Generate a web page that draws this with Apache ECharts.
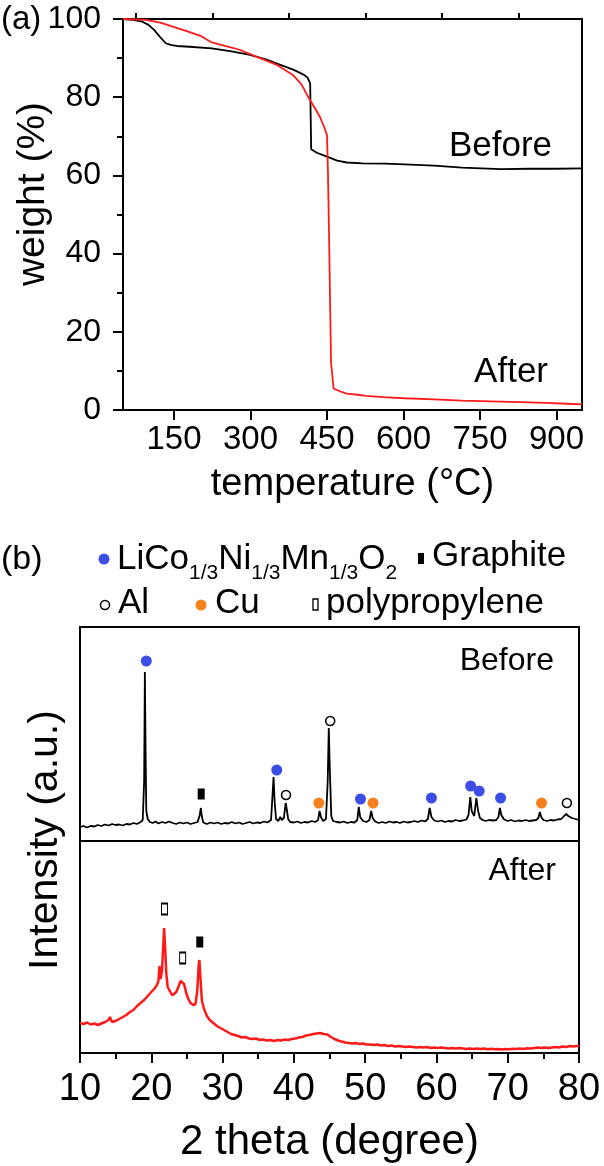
<!DOCTYPE html>
<html><head><meta charset="utf-8">
<script src="https://cdn.jsdelivr.net/npm/echarts@6/dist/echarts.min.js"></script>
<style>html,body{margin:0;padding:0;background:#fff}#c{width:604px;height:1166px}</style>
</head><body><div id="c"></div>
<script>
// ---- (a) TGA data ----
const tgaBeforeT = [50, 70, 88, 100, 111, 122, 134, 145, 156, 180, 224, 260, 299, 330, 360, 385, 405, 412, 417, 418, 419, 430, 450, 470, 489, 520, 564, 602, 660, 715, 791, 850, 900, 950];
const tgaBeforeW = [100, 99.8, 99.3, 98.5, 97.2, 95.5, 93.8, 93.3, 93.1, 92.9, 92.5, 91.8, 90.8, 89.7, 88.2, 87.0, 85.7, 85.0, 83.5, 75, 66.7, 65.8, 64.8, 63.8, 63.3, 63.1, 63.0, 62.8, 62.5, 62.0, 61.6, 61.7, 61.7, 61.8];
const tgaAfterT = [50, 96, 125, 149, 175, 202, 224, 250, 277, 315, 353, 383, 400, 413, 425, 436, 444, 450, 452, 454, 456, 458, 463, 475, 489, 510, 526, 560, 602, 660, 715, 770, 829, 880, 920, 950];
const tgaAfterW = [100, 99.8, 99.0, 98.0, 96.9, 95.7, 94.0, 93.1, 92.2, 90.2, 88.2, 85.7, 83.3, 80.1, 77.5, 75.0, 72.5, 70.3, 60, 45, 28, 12, 5.5, 4.8, 4.2, 3.9, 3.6, 3.3, 3.0, 2.7, 2.4, 2.2, 2.0, 1.8, 1.6, 1.45];
const tgaXLabels = [150, 300, 450, 600, 750, 900];
const tgaXMinorTicks = [75, 225, 375, 525, 675, 825];

// ---- (b) XRD data (a.u.) ----
const xrdBeforeTheta = [10.0,10.5,11.0,11.5,12.0,12.5,13.0,13.5,14.0,14.5,15.0,15.5,16.0,16.5,17.0,17.5,18.0,18.5,18.8,19.0,19.1,19.2,19.3,19.5,19.8,20.2,20.6,21.0,21.5,22.0,22.5,23.0,23.5,24.0,24.5,25.0,25.5,26.0,26.5,26.8,26.95,27.1,27.3,27.8,28.3,28.8,29.3,29.8,30.3,30.8,31.3,31.8,32.3,32.8,33.3,33.8,34.3,34.8,35.3,35.8,36.3,36.8,37.0,37.15,37.3,37.5,37.8,38.1,38.3,38.6,38.85,39.0,39.2,39.5,40.0,40.5,41.0,41.5,42.0,42.5,43.0,43.4,43.6,43.8,44.1,44.5,44.75,44.9,45.05,45.25,45.5,46.0,46.5,47.0,47.5,48.0,48.5,48.9,49.1,49.3,49.7,50.2,50.6,50.85,51.05,51.4,51.9,52.4,52.9,53.4,53.9,54.4,54.9,55.4,55.9,56.4,56.9,57.4,57.9,58.4,58.8,59.05,59.3,59.7,60.2,60.7,61.2,61.7,62.2,62.7,63.2,63.7,64.2,64.5,64.75,64.95,65.3,65.6,65.85,66.1,66.5,66.9,67.4,67.9,68.4,68.7,68.9,69.1,69.5,70.0,70.5,71.0,71.5,72.0,72.5,73.0,73.5,74.0,74.3,74.5,74.7,75.0,75.5,76.0,76.5,77.0,77.5,77.9,78.2,78.5,78.7,79.0,79.5,80.0];
const xrdBeforeI = [14,15,13.5,15,14.5,16,15,16.5,15.5,17,16,16.5,15.5,17,16.5,18,17,19,21,60,169,90,30,22,19,18,19.5,17.5,19,18,19.5,18,17,18.5,17.5,18.5,17,18,19,26,33,24,18.5,17,18.5,17.5,18.5,17,18,17.5,19,17.5,18.5,17,18,19,17.5,18.5,18,19.5,18.5,21,45,64,40,22,20,24,21,23,38,32,22,19,18.5,19.5,18,19,18.5,20,19,21,30,24,20,22,60,113,70,25,20,19,18.5,19.5,18,19,18.5,21,34,24,20,19,21,30,23,19.5,18,19,18,19.5,18.5,19,18,19.5,18.5,19,20,19,20.5,19.5,22,33,24,20.5,19.5,20.5,19,20,19.5,21,20,20.5,21.5,26,44,30,25,43,30,23,21,20,21,20.5,21,24,33,26,21.5,20,21,19.5,20.5,20,21,20,20.5,21,23,29,24,21,20,21,20.5,21.5,22,25,27,25,27,23,22,21];
const xrdAfterTheta = [10.0,10.5,11.0,11.5,12.0,12.5,13.0,13.5,14.0,14.2,14.5,15.0,15.5,16.0,16.5,17.0,17.5,18.0,18.5,19.0,19.5,20.0,20.4,20.8,21.0,21.15,21.3,21.5,21.7,21.8,21.95,22.1,22.3,22.6,22.9,23.2,23.5,23.8,24.1,24.3,24.6,24.9,25.2,25.5,25.9,26.2,26.45,26.65,26.75,26.9,27.1,27.4,27.8,28.2,28.7,29.2,29.7,30.2,30.7,31.2,31.7,32.2,32.7,33.2,33.7,34.2,34.7,35.2,35.7,36.2,36.7,37.2,37.7,38.2,38.7,39.2,39.7,40.2,40.7,41.2,41.7,42.2,42.7,43.2,43.7,44.2,44.7,45.2,45.7,46.2,46.7,47.2,47.7,48.2,48.7,49.2,49.7,50.2,50.7,51.2,51.7,52.2,52.7,53.2,53.7,54.2,54.7,55.2,55.7,56.2,56.7,57.2,57.7,58.2,58.7,59.2,59.7,60.2,60.7,61.2,61.7,62.2,62.7,63.2,63.7,64.2,64.7,65.2,65.7,66.2,66.7,67.2,67.7,68.2,68.7,69.2,69.7,70.2,70.7,71.2,71.7,72.2,72.7,73.2,73.7,74.2,74.7,75.2,75.7,76.2,76.7,77.2,77.7,78.2,78.7,79.2,79.7,80.0];
const xrdAfterI = [30,29,30.5,28.5,29.5,28,29.5,31,33,36,31,32,34,36,38,41,43,47,50,53,57,61,64,68,72,87,74,82,110,125,105,80,66,62,58,59,61,66,72,74,69,60,54,50,48,49,62,88,93,75,52,44,37,33,30,27,25,23,21,19,18,17,15.5,16,14.5,14,14.5,13,13.5,12.5,13,12,13,12.5,13.5,13,14,14.5,15.5,16,17.5,18,19,19.5,20,19,18.5,16,14,12.5,11.5,10.5,10,9.5,10,9,9.5,8.5,8.5,8,8.5,7.5,8,7,7.5,6.5,7,6.5,6,6.5,6,5.5,6,5.5,6,5,5.5,5,5.5,5,4.5,5,4.5,5,4.5,4,4.5,4,4.5,4,4.5,3.8,4.2,3.8,4,3.5,4,3.8,4.2,4,4.5,4,4.8,4.5,5,5.5,5,5.5,5,5.5,6,5.5,6.5,6,7,6.5,7,7];

// ---- peak markers [2theta, a.u.] ----
const mkNMC = [[19.3,180],[37.6,71],[49.35,42],[59.3,43],[64.8,55],[66.0,50],[69.0,43]];
const mkAl = [[38.9,46],[45.1,120],[78.3,38]];
const mkCu = [[43.5,38],[51.1,38],[74.75,38]];
const mkGraphiteBefore = [[27.0,47]];
const mkGraphiteAfter = [[26.8,111]];
const mkPP = [[21.85,144],[24.4,95]];

const FF = '"Liberation Sans", Arial, sans-serif';
const BLUE = '#3d4ee6', ORANGE = '#f5801e', RED = '#ff1a1a';
const zip = (a, b) => a.map((v, i) => [v, b[i]]);

const chart = echarts.init(document.getElementById('c'));
const axisLineStyle = {color: '#000', width: 2};
chart.setOption({
  animation: false,
  backgroundColor: '#fff',
  grid: [
    {left: 123, top: 19, right: 22, height: 391, show: true, borderColor: '#000', borderWidth: 2, outerBoundsMode: 'none'},
    {left: 80, top: 627, right: 25, height: 214, show: true, borderColor: '#000', borderWidth: 2, outerBoundsMode: 'none'},
    {left: 80, top: 841, right: 25, height: 212, show: true, borderColor: '#000', borderWidth: 2, outerBoundsMode: 'none'}
  ],
  xAxis: [
    {gridIndex: 0, type: 'value', min: 50, max: 950,
      axisLine: {lineStyle: axisLineStyle},
      axisTick: {length: 10, lineStyle: axisLineStyle, customValues: tgaXLabels},
      axisLabel: {customValues: tgaXLabels, fontSize: 33, color: '#000', fontFamily: FF, margin: 13},
      splitLine: {show: false},
      name: 'temperature (°C)', nameLocation: 'middle', nameGap: 56, nameMoveOverlap: false,
      nameTextStyle: {fontSize: 38, color: '#000', fontFamily: FF}},
    {gridIndex: 1, type: 'value', min: 10, max: 80, show: false},
    {gridIndex: 2, type: 'value', min: 10, max: 80, interval: 10,
      axisLine: {lineStyle: axisLineStyle},
      axisTick: {length: 10, lineStyle: axisLineStyle},
      minorTick: {show: true, splitNumber: 2, length: 6, lineStyle: axisLineStyle},
      axisLabel: {fontSize: 38, color: '#000', fontFamily: FF, margin: 18},
      splitLine: {show: false},
      name: '2 theta (degree)', nameLocation: 'middle', nameGap: 68, nameMoveOverlap: false,
      nameTextStyle: {fontSize: 42, color: '#000', fontFamily: FF}},
    {gridIndex: 0, type: 'value', min: 50, max: 950,
      axisLine: {show: false},
      axisTick: {length: 6, lineStyle: axisLineStyle, customValues: tgaXMinorTicks},
      axisLabel: {show: false}, splitLine: {show: false}}
  ],
  yAxis: [
    {gridIndex: 0, type: 'value', min: 0, max: 100, interval: 20,
      axisLine: {show: true, lineStyle: axisLineStyle},
      axisTick: {show: true, length: 10, lineStyle: axisLineStyle},
      minorTick: {show: true, splitNumber: 2, length: 6, lineStyle: axisLineStyle},
      axisLabel: {fontSize: 32, color: '#000', fontFamily: FF, margin: 22},
      splitLine: {show: false}},
    {gridIndex: 1, type: 'value', min: 0, max: 214, show: false},
    {gridIndex: 2, type: 'value', min: 0, max: 212, show: false}
  ],
  series: [
    {name: 'Before TGA', type: 'line', xAxisIndex: 0, yAxisIndex: 0, data: zip(tgaBeforeT, tgaBeforeW),
      showSymbol: false, lineStyle: {color: '#000', width: 1.8}},
    {name: 'After TGA', type: 'line', xAxisIndex: 0, yAxisIndex: 0, data: zip(tgaAfterT, tgaAfterW),
      showSymbol: false, lineStyle: {color: RED, width: 1.8}},
    {name: 'Before XRD', type: 'line', xAxisIndex: 1, yAxisIndex: 1, data: zip(xrdBeforeTheta, xrdBeforeI),
      showSymbol: false, lineStyle: {color: '#000', width: 1.8}},
    {name: 'After XRD', type: 'line', xAxisIndex: 2, yAxisIndex: 2, data: zip(xrdAfterTheta, xrdAfterI),
      showSymbol: false, lineStyle: {color: RED, width: 2.5}},
    {name: 'LiCo1/3Ni1/3Mn1/3O2', type: 'scatter', xAxisIndex: 1, yAxisIndex: 1, data: mkNMC,
      symbol: 'circle', symbolSize: 11, itemStyle: {color: BLUE, opacity: 1}, z: 5},
    {name: 'Al', type: 'scatter', xAxisIndex: 1, yAxisIndex: 1, data: mkAl,
      symbol: 'circle', symbolSize: 9, itemStyle: {color: '#fff', borderColor: '#000', borderWidth: 1.5, opacity: 1}, z: 5},
    {name: 'Cu', type: 'scatter', xAxisIndex: 1, yAxisIndex: 1, data: mkCu,
      symbol: 'circle', symbolSize: 11, itemStyle: {color: ORANGE, opacity: 1}, z: 5},
    {name: 'Graphite', type: 'scatter', xAxisIndex: 1, yAxisIndex: 1, data: mkGraphiteBefore,
      symbol: 'rect', symbolSize: [7, 11], itemStyle: {color: '#000', opacity: 1}, z: 5},
    {name: 'Graphite', type: 'scatter', xAxisIndex: 2, yAxisIndex: 2, data: mkGraphiteAfter,
      symbol: 'rect', symbolSize: [7, 11], itemStyle: {color: '#000', opacity: 1}, z: 5},
    {name: 'polypropylene', type: 'scatter', xAxisIndex: 2, yAxisIndex: 2, data: mkPP,
      symbol: 'rect', symbolSize: [6, 11], itemStyle: {color: '#fff', borderColor: '#000', borderWidth: 1.3, opacity: 1}, z: 5}
  ],
  graphic: [
    {type: 'text', x: 1, y: 20, style: {text: '(a)', fontSize: 33, fontFamily: FF, fill: '#000', align: 'left', verticalAlign: 'middle'}},
    {type: 'text', x: 33, y: 194, rotation: Math.PI / 2, style: {text: 'weight (%)', fontSize: 39, fontFamily: FF, fill: '#000', align: 'center', verticalAlign: 'middle'}},
    {type: 'text', x: 552, y: 146, style: {text: 'Before', fontSize: 35, fontFamily: FF, fill: '#000', align: 'right', verticalAlign: 'middle'}},
    {type: 'text', x: 548, y: 372, style: {text: 'After', fontSize: 35, fontFamily: FF, fill: '#000', align: 'right', verticalAlign: 'middle'}},
    {type: 'text', x: 1, y: 560, style: {text: '(b)', fontSize: 34, fontFamily: FF, fill: '#000', align: 'left', verticalAlign: 'middle'}},
    {type: 'text', x: 554, y: 661, style: {text: 'Before', fontSize: 32, fontFamily: FF, fill: '#000', align: 'right', verticalAlign: 'middle'}},
    {type: 'text', x: 556, y: 871, style: {text: 'After', fontSize: 32, fontFamily: FF, fill: '#000', align: 'right', verticalAlign: 'middle'}},
    {type: 'text', x: 46, y: 840, rotation: Math.PI / 2, style: {text: 'Intensity (a.u.)', fontSize: 41, fontFamily: FF, fill: '#000', align: 'center', verticalAlign: 'middle'}},
    // legend row 1
    {type: 'circle', shape: {cx: 104, cy: 559, r: 5.5}, style: {fill: BLUE}},
    {type: 'text', x: 117, y: 542, style: {
      text: '{m|LiCo}{s|1/3}{m|Ni}{s|1/3}{m|Mn}{s|1/3}{m|O}{s|2}', align: 'left', verticalAlign: 'top', fill: '#000',
      rich: {m: {fontSize: 35, fontFamily: FF, lineHeight: 35, verticalAlign: 'top', fill: '#000'},
             s: {fontSize: 21, fontFamily: FF, lineHeight: 42, verticalAlign: 'bottom', fill: '#000'}}}},
    {type: 'rect', shape: {x: 418, y: 553, width: 6, height: 11}, style: {fill: '#000'}},
    {type: 'text', x: 432, y: 556, style: {text: 'Graphite', fontSize: 35, fontFamily: FF, fill: '#000', align: 'left', verticalAlign: 'middle'}},
    // legend row 2
    {type: 'circle', shape: {cx: 105, cy: 605, r: 4.5}, style: {fill: '#fff', stroke: '#000', lineWidth: 1.5}},
    {type: 'text', x: 118, y: 603, style: {text: 'Al', fontSize: 35, fontFamily: FF, fill: '#000', align: 'left', verticalAlign: 'middle'}},
    {type: 'circle', shape: {cx: 201, cy: 605, r: 5.5}, style: {fill: ORANGE}},
    {type: 'text', x: 215, y: 603, style: {text: 'Cu', fontSize: 35, fontFamily: FF, fill: '#000', align: 'left', verticalAlign: 'middle'}},
    {type: 'rect', shape: {x: 313, y: 599, width: 5, height: 11}, style: {fill: '#fff', stroke: '#000', lineWidth: 1.3}},
    {type: 'text', x: 326, y: 603, style: {text: 'polypropylene', fontSize: 35, fontFamily: FF, fill: '#000', align: 'left', verticalAlign: 'middle'}}
  ]
});
</script>
</body></html>
